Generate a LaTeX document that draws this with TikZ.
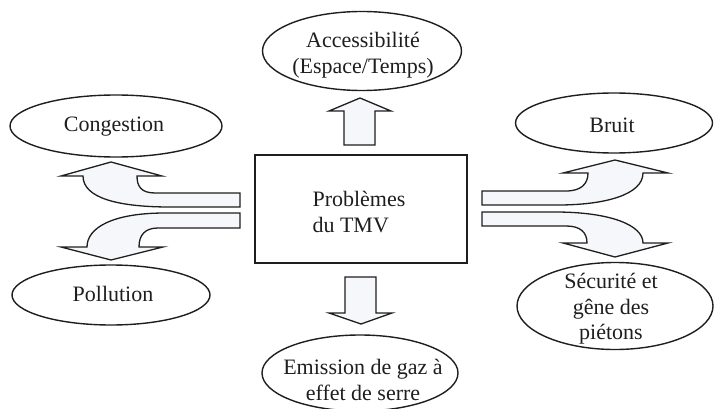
\documentclass[tikz,border=0pt]{standalone}
\usepackage{fontspec}
\setmainfont{Liberation Serif}
\usetikzlibrary{shapes.geometric}
\definecolor{arrfill}{RGB}{246,247,250}
\definecolor{ink}{RGB}{30,30,30}
\tikzset{
  oval/.style={ellipse, draw=ink, line width=1.4pt, inner sep=0pt},
  ovaltext/.style={align=center, inner sep=0pt, font=\fontsize{22}{25.5}\selectfont, text=ink},
  blockarrow/.style={draw=ink, line width=1.3pt, fill=arrfill, line join=miter},
  probbox/.style={draw=ink, line width=1.7pt, minimum width=212pt, minimum height=108pt, inner sep=0pt},
  boxtext/.style={font=\fontsize{22}{26}\selectfont, align=left, text=ink, anchor=west}
}
\begin{document}
\begin{tikzpicture}[x=1pt,y=-1pt]
\useasboundingbox (0,0) rectangle (714,409);
% central box
\node[probbox] (box) at (361,209) {};
\node[boxtext] (boxtxt) at (309,212) {Problèmes\\du TMV};
% ellipses
\node[oval, minimum width=199pt, minimum height=79pt] (acc) at (362,51) {};
\node[ovaltext] (acct) at (363,55) {Accessibilité\\(Espace/Temps)};
\node[oval, minimum width=212pt, minimum height=62pt] (cong) at (116,126) {};
\node[ovaltext] (congt) at (114,127) {Congestion};
\node[oval, minimum width=197pt, minimum height=60pt] (bruit) at (614,123) {};
\node[ovaltext] (bruitt) at (612,125) {Bruit};
\node[oval, minimum width=198pt, minimum height=60pt] (poll) at (111,295) {};
\node[ovaltext] (pollt) at (113,294) {Pollution};
\node[oval, minimum width=196pt, minimum height=87pt] (secu) at (615,306) {};
\node[ovaltext] (secut) at (611,309) {Sécurité et\\gêne des\\piétons};
\node[oval, minimum width=196pt, minimum height=76pt] (emis) at (360,373) {};
\node[ovaltext] (emist) at (363,380) {Emission de gaz à\\effet de serre};
% straight block arrows
\draw[blockarrow] (344,145) -- (344,111) -- (329,111) -- (360,98) -- (391,111) -- (375,111) -- (375,145) -- cycle;
\draw[blockarrow] (345,277) -- (345,313) -- (329,313) -- (361,324) -- (392,313) -- (376,313) -- (376,277) -- cycle;
% curved block arrow: left, up to Congestion
\draw[blockarrow] (240,193) -- (155,193) .. controls (141,193) and (137,186) .. (137,176)
  -- (162,176) -- (111,162) -- (61,176) -- (83,176)
  .. controls (83,198) and (118,207) .. (170,207) -- (240,207) -- cycle;
% curved block arrow: left, down to Pollution
\draw[blockarrow] (240,213) -- (165,213) .. controls (112,213) and (87,228) .. (87,247)
  -- (61,247) -- (111,260) -- (163,247) -- (139,247)
  .. controls (139,235) and (145,228) .. (158,228) -- (240,228) -- cycle;
% curved block arrow: right, up to Bruit
\draw[blockarrow] (482,191) -- (566,191) .. controls (581,191) and (588,184) .. (588,173)
  -- (563,173) -- (615,160) -- (668,173) -- (643,173)
  .. controls (643,195) and (604,205) .. (558,205) -- (482,205) -- cycle;
% curved block arrow: right, down to Securite
\draw[blockarrow] (482,212) -- (555,212) .. controls (610,212) and (643,225) .. (643,243)
  -- (668,243) -- (615,257) -- (563,243) -- (587,243)
  .. controls (587,232) and (580,226) .. (566,226) -- (482,226) -- cycle;
\end{tikzpicture}
\end{document}
